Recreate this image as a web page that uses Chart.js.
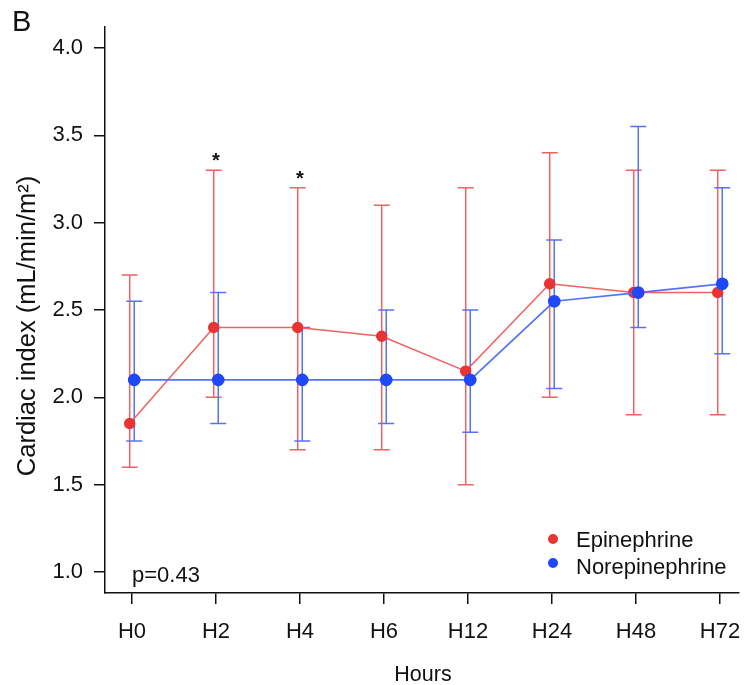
<!DOCTYPE html>
<html>
<head>
<meta charset="utf-8">
<script src="https://cdn.jsdelivr.net/npm/chart.js@4.4.1/dist/chart.umd.min.js"></script>
<style>
  html, body { margin: 0; padding: 0; background: #ffffff; }
  #wrap { width: 746px; height: 685px; }
</style>
</head>
<body>
<div id="wrap"><canvas id="c" width="746" height="685"></canvas></div>
<script>
// ---- data ----
const categories = ['H0', 'H2', 'H4', 'H6', 'H12', 'H24', 'H48', 'H72'];
const epiMean = [1.85, 2.40, 2.40, 2.35, 2.15, 2.65, 2.60, 2.60];
const epiLow  = [1.60, 2.00, 1.70, 1.70, 1.50, 2.00, 1.90, 1.90];
const epiHigh = [2.70, 3.30, 3.20, 3.10, 3.20, 3.40, 3.30, 3.30];
const norMean = [2.10, 2.10, 2.10, 2.10, 2.10, 2.55, 2.60, 2.65];
const norLow  = [1.75, 1.85, 1.75, 1.85, 1.80, 2.05, 2.40, 2.25];
const norHigh = [2.55, 2.60, 2.40, 2.50, 2.50, 2.90, 3.55, 3.20];
const stars   = ['', '*', '*', '', '', '', '', ''];
const yTicks  = [1.0, 1.5, 2.0, 2.5, 3.0, 3.5, 4.0];
const seriesNames = ['Epinephrine', 'Norepinephrine'];
const pValueText = 'p=0.43';
const panelLabel = 'B';
const yTitle = 'Cardiac index (mL/min/m²)';
const xTitle = 'Hours';

// ---- styling ----
const FONT = '"Liberation Sans", Arial, Helvetica, sans-serif';
const RED_PT = 'rgb(232,52,52)';
const RED_LN = 'rgb(238,98,98)';
const BLUE_PT = 'rgb(30,72,248)';
const BLUE_LN = 'rgb(84,116,244)';
const DODGE = 0.027;
const CAP = 8;

const toPoints = (vals, d) => vals.map((v, i) => ({ x: i + 1 + d, y: v }));

const overlay = {
  id: 'overlay',
  beforeDatasetsDraw(chart) {
    const { ctx, scales: { x, y } } = chart;
    const bars = (lows, highs, d, color) => {
      ctx.save();
      ctx.strokeStyle = color;
      ctx.lineWidth = 1.5;
      categories.forEach((c, i) => {
        const px = x.getPixelForValue(i + 1 + d);
        const yl = y.getPixelForValue(lows[i]);
        const yh = y.getPixelForValue(highs[i]);
        ctx.beginPath();
        ctx.moveTo(px, yl); ctx.lineTo(px, yh);
        ctx.moveTo(px - CAP, yl); ctx.lineTo(px + CAP, yl);
        ctx.moveTo(px - CAP, yh); ctx.lineTo(px + CAP, yh);
        ctx.stroke();
      });
      ctx.restore();
    };
    bars(epiLow, epiHigh, -DODGE, RED_LN);
    bars(norLow, norHigh, DODGE, BLUE_LN);
  },
  afterDraw(chart) {
    const { ctx, scales: { x, y } } = chart;
    ctx.save();
    ctx.fillStyle = '#111';
    // panel letter
    ctx.font = '29px ' + FONT;
    ctx.textAlign = 'left';
    ctx.textBaseline = 'alphabetic';
    ctx.fillText(panelLabel, 12, 31);
    // significance stars
    ctx.font = 'bold 20px ' + FONT;
    ctx.textAlign = 'center';
    stars.forEach((s, i) => {
      if (!s) return;
      const px = x.getPixelForValue(i + 1);
      const py = y.getPixelForValue(Math.max(epiHigh[i], norHigh[i]));
      ctx.fillText(s, px, py - 3);
    });
    // p value
    ctx.textAlign = 'left';
    ctx.font = '22px ' + FONT;
    ctx.fillText(pValueText, 132, 582);
    // legend
    const lx = 553;
    const rows = [[RED_PT, 539, 547], [BLUE_PT, 563, 574]];
    rows.forEach((r, k) => {
      ctx.fillStyle = r[0];
      ctx.beginPath();
      ctx.arc(lx, r[1], 5, 0, Math.PI * 2);
      ctx.fill();
      ctx.fillStyle = '#111';
      ctx.font = '22px ' + FONT;
      ctx.fillText(seriesNames[k], 576, r[2]);
    });
    // y title
    ctx.save();
    ctx.translate(28, 326);
    ctx.rotate(-Math.PI / 2);
    ctx.textAlign = 'center';
    ctx.textBaseline = 'middle';
    ctx.font = '25.5px ' + FONT;
    ctx.fillText(yTitle, 0, 0);
    ctx.restore();
    // x title
    ctx.textAlign = 'center';
    ctx.textBaseline = 'alphabetic';
    ctx.font = '21.5px ' + FONT;
    ctx.fillText(xTitle, 423, 681);
    ctx.restore();
  }
};

const axisCommon = {
  grid: { display: true, drawOnChartArea: false, drawTicks: true, tickLength: 11, color: '#111', lineWidth: 1.5 },
  border: { display: true, color: '#111', width: 1.5 },
};

new Chart(document.getElementById('c'), {
  type: 'line',
  data: {
    datasets: [
      {
        label: seriesNames[0],
        data: toPoints(epiMean, -DODGE),
        borderColor: RED_LN, backgroundColor: RED_PT,
        pointBackgroundColor: RED_PT, pointBorderColor: RED_PT,
        pointRadius: 5, borderWidth: 1.5, tension: 0, order: 1
      },
      {
        label: seriesNames[1],
        data: toPoints(norMean, DODGE),
        borderColor: BLUE_LN, backgroundColor: BLUE_PT,
        pointBackgroundColor: BLUE_PT, pointBorderColor: BLUE_PT,
        pointRadius: 5.5, borderWidth: 1.7, tension: 0, order: 0
      }
    ]
  },
  options: {
    responsive: false,
    animation: false,
    devicePixelRatio: 1,
    layout: { padding: { top: 27, right: 3, left: 0, bottom: 0 } },
    plugins: { legend: { display: false }, tooltip: { enabled: false } },
    scales: {
      x: {
        type: 'linear', min: 0.679, max: 8.224,
        ...axisCommon,
        afterBuildTicks: (s) => { s.ticks = categories.map((c, i) => ({ value: i + 1 })); },
        afterFit: (s) => { s.height = 92; s.paddingLeft = 0; s.paddingRight = 0; },
        ticks: {
          autoSkip: false, maxRotation: 0, padding: 15, color: '#111',
          font: { family: FONT, size: 22 },
          callback: (v) => categories[Math.round(v) - 1]
        }
      },
      y: {
        type: 'linear', min: 0.88, max: 4.12,
        ...axisCommon,
        afterBuildTicks: (s) => { s.ticks = yTicks.map(v => ({ value: v })); },
        afterFit: (s) => { s.width = 105; s.paddingTop = 0; s.paddingBottom = 0; },
        ticks: {
          padding: 11, color: '#111',
          font: { family: FONT, size: 22 },
          callback: (v) => Number(v).toFixed(1)
        }
      }
    }
  },
  plugins: [overlay]
});
</script>
</body>
</html>
